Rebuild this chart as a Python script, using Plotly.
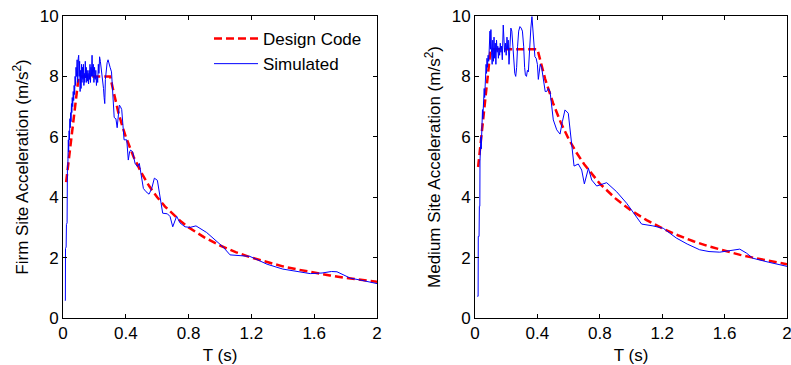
import plotly.graph_objects as go

# ---------------- data ----------------
x_ticks = [0, 0.4, 0.8, 1.2, 1.6, 2]
x_tick_labels = ["0", "0.4", "0.8", "1.2", "1.6", "2"]
y_ticks = [0, 2, 4, 6, 8, 10]
y_tick_labels = ["0", "2", "4", "6", "8", "10"]

# Firm site - design code
firm_code_T = [0.02, 0.1, 0.3, 0.325, 0.35, 0.375, 0.4, 0.45, 0.5, 0.55, 0.6, 0.65, 0.7, 0.75,
               0.8, 0.9, 1.0, 1.1, 1.2, 1.3, 1.4, 1.5, 1.6, 1.7, 1.8, 1.9, 2.0]
firm_code_A = [4.5, 8.0, 8.0, 7.38, 6.86, 6.4, 6.0, 5.33, 4.8, 4.36, 4.0, 3.69, 3.43, 3.2,
               3.0, 2.67, 2.4, 2.18, 2.0, 1.85, 1.71, 1.6, 1.5, 1.41, 1.33, 1.26, 1.2]

# Firm site - simulated
firm_sim_T = [0.012, 0.015, 0.016, 0.020, 0.022, 0.026, 0.028, 0.031, 0.034, 0.036,
              0.039, 0.041, 0.044, 0.046, 0.049, 0.051, 0.054, 0.056, 0.059, 0.062,
              0.065, 0.068, 0.071, 0.074, 0.077, 0.080, 0.083, 0.086, 0.090, 0.094,
              0.097, 0.100, 0.103, 0.106, 0.109, 0.112, 0.115, 0.118, 0.121, 0.124,
              0.127, 0.130, 0.133, 0.136, 0.139, 0.142, 0.145, 0.148, 0.151, 0.154,
              0.157, 0.160, 0.163, 0.166, 0.169, 0.172, 0.175, 0.178, 0.181, 0.185,
              0.189, 0.193, 0.197, 0.201, 0.205, 0.209, 0.213, 0.217, 0.221, 0.225,
              0.229, 0.233, 0.238, 0.243, 0.248, 0.253, 0.258, 0.262, 0.266, 0.270,
              0.275, 0.281, 0.287, 0.294, 0.300, 0.309, 0.315, 0.320, 0.326, 0.331,
              0.337, 0.345, 0.352, 0.359, 0.366, 0.374, 0.389, 0.406, 0.416, 0.424,
              0.431, 0.444, 0.459, 0.474, 0.486, 0.501, 0.512, 0.529, 0.548, 0.565,
              0.582, 0.601, 0.618, 0.635, 0.665, 0.682, 0.699, 0.724, 0.745, 0.777,
              0.809, 0.847, 0.915, 0.968, 1.020, 1.064, 1.120, 1.190, 1.250, 1.300,
              1.400, 1.500, 1.575, 1.650, 1.710, 1.745, 1.790, 1.830, 1.900, 2.000]
firm_sim_A = [0.58, 0.58, 2.3, 2.35, 3.1, 3.15, 4.9, 5.1, 5.9, 5.5,
              6.2, 5.9, 6.6, 6.3, 6.8, 6.5, 7.1, 6.8, 7.3, 7.0,
              7.5, 7.2, 7.7, 7.4, 8.0, 7.7, 8.3, 8.0, 8.55, 7.8,
              8.6, 8.7, 8.0, 8.5, 7.5, 8.2, 7.6, 8.4, 7.8, 8.3,
              7.9, 8.4, 7.7, 8.1, 7.8, 8.5, 7.95, 8.3, 7.8, 8.2,
              7.85, 8.1, 7.75, 8.2, 7.9, 8.4, 7.8, 8.3, 8.0, 8.7,
              8.0, 8.4, 7.8, 8.3, 7.9, 8.2, 7.7, 8.0, 7.8, 8.4,
              8.1, 8.65, 8.5, 8.3, 8.0, 7.9, 7.6, 7.3, 7.1, 7.9,
              8.2, 8.45, 8.55, 8.45, 8.3, 8.15, 7.6, 7.2, 6.65, 6.61,
              6.6, 6.3, 6.6, 7.05, 7.0, 6.9, 5.9, 5.9, 5.23, 5.5,
              5.56, 5.5, 5.12, 5.01, 5.12, 4.68, 4.29, 4.18, 4.1, 4.29,
              4.63, 4.56, 3.96, 3.47, 3.45, 3.36, 3.02, 3.37, 3.15, 3.02,
              3.0, 3.05, 2.83, 2.6, 2.35, 2.09, 2.06, 2.04, 1.9, 1.78,
              1.62, 1.52, 1.47, 1.49, 1.54, 1.53, 1.42, 1.32, 1.25, 1.14]

# Medium site - design code
med_code_T = [0.02, 0.1, 0.4, 0.425, 0.45, 0.5, 0.55, 0.6, 0.65, 0.7, 0.75, 0.8, 0.9, 1.0,
              1.1, 1.2, 1.3, 1.4, 1.5, 1.6, 1.7, 1.8, 1.9, 2.0]
med_code_A = [5.0, 8.9, 8.9, 8.38, 7.91, 7.12, 6.47, 5.93, 5.48, 5.09, 4.75, 4.45, 3.96, 3.56,
              3.24, 2.97, 2.74, 2.54, 2.37, 2.23, 2.09, 1.98, 1.87, 1.78]

# Medium site - simulated
med_sim_T = [0.015, 0.020, 0.021, 0.026, 0.028, 0.031, 0.032, 0.035, 0.038, 0.040,
             0.043, 0.045, 0.048, 0.050, 0.053, 0.056, 0.059, 0.062, 0.065, 0.068,
             0.071, 0.074, 0.077, 0.080, 0.084, 0.088, 0.092, 0.096, 0.099, 0.102,
             0.106, 0.110, 0.114, 0.118, 0.122, 0.126, 0.130, 0.134, 0.138, 0.142,
             0.146, 0.150, 0.154, 0.158, 0.162, 0.166, 0.170, 0.175, 0.181, 0.186,
             0.190, 0.195, 0.200, 0.205, 0.209, 0.213, 0.218, 0.224, 0.230, 0.236,
             0.242, 0.248, 0.255, 0.261, 0.267, 0.273, 0.280, 0.288, 0.296, 0.304,
             0.312, 0.318, 0.323, 0.330, 0.336, 0.342, 0.350, 0.358, 0.365, 0.372,
             0.378, 0.384, 0.392, 0.400, 0.406, 0.412, 0.418, 0.427, 0.438, 0.450,
             0.459, 0.470, 0.481, 0.490, 0.502, 0.524, 0.545, 0.560, 0.577, 0.598,
             0.620, 0.635, 0.662, 0.684, 0.701, 0.727, 0.748, 0.780, 0.844, 0.908,
             0.972, 1.026, 1.068, 1.140, 1.207, 1.290, 1.360, 1.440, 1.500, 1.569,
             1.630, 1.697, 1.740, 1.780, 1.880, 2.000]
med_sim_A = [0.72, 0.72, 2.7, 2.7, 3.7, 3.7, 5.2, 5.6, 6.0, 5.6,
             6.6, 6.3, 6.9, 6.6, 7.2, 6.9, 7.6, 7.3, 7.9, 7.6,
             8.4, 8.1, 8.6, 8.3, 8.7, 8.5, 9.3, 9.5, 8.9, 9.55,
             8.8, 8.4, 9.2, 8.5, 9.3, 8.6, 9.1, 8.4, 9.2, 8.8,
             9.0, 8.6, 8.95, 8.7, 9.1, 8.8, 9.0, 8.55, 9.7, 9.2,
             8.8, 9.1, 8.7, 9.3, 8.9, 9.2, 8.4, 9.0, 9.6, 9.5,
             9.0, 8.5, 8.1, 8.0, 8.3, 9.0, 9.5, 9.65, 9.6, 9.5,
             9.0, 8.3, 8.05, 8.0, 8.2, 8.15, 9.0, 9.6, 9.98, 9.5,
             8.8, 8.65, 8.6, 8.4, 7.9, 8.3, 8.4, 8.3, 7.9, 7.5,
             7.5, 7.6, 7.5, 7.0, 6.56, 6.23, 6.09, 6.5, 6.89, 6.78,
             5.78, 5.03, 5.1, 4.9, 4.44, 4.96, 4.57, 4.37, 4.48, 4.18,
             3.8, 3.41, 3.11, 3.05, 2.97, 2.65, 2.45, 2.26, 2.2, 2.18,
             2.23, 2.28, 2.15, 1.98, 1.85, 1.71]

# ---------------- figure ----------------
W, H = 791, 365
FONT = "Arial, 'Liberation Sans', sans-serif"
RED = "rgb(255,0,0)"
BLUE = "rgb(0,0,255)"
dash = "8px,4px"


def px_x(p):
    return p / W


def px_y(p):
    return 1 - p / H


fig = go.Figure()
fig.add_trace(go.Scatter(x=firm_code_T, y=firm_code_A, mode="lines", name="Design Code",
                         line=dict(color=RED, width=2.5, dash=dash), xaxis="x", yaxis="y"))
fig.add_trace(go.Scatter(x=firm_sim_T, y=firm_sim_A, mode="lines", name="Simulated",
                         line=dict(color=BLUE, width=1), xaxis="x", yaxis="y"))
fig.add_trace(go.Scatter(x=med_code_T, y=med_code_A, mode="lines", name="Design Code",
                         line=dict(color=RED, width=2.5, dash=dash), xaxis="x2", yaxis="y2",
                         showlegend=False))
fig.add_trace(go.Scatter(x=med_sim_T, y=med_sim_A, mode="lines", name="Simulated",
                         line=dict(color=BLUE, width=1), xaxis="x2", yaxis="y2",
                         showlegend=False))

common_x = dict(range=[0, 2], tickvals=x_ticks, ticktext=x_tick_labels, ticks="inside",
                ticklen=4, tickcolor="black", showline=True, linecolor="black", linewidth=1,
                mirror="ticks", showgrid=False, zeroline=False, automargin=False,
                ticklabeloverflow="allow",
                tickfont=dict(family=FONT, size=17, color="black"))
common_y = dict(range=[0, 10], tickvals=y_ticks, ticktext=y_tick_labels, ticks="inside",
                ticklen=4, tickcolor="black", showline=True, linecolor="black", linewidth=1,
                mirror="ticks", showgrid=False, zeroline=False, automargin=False,
                ticklabeloverflow="allow",
                tickfont=dict(family=FONT, size=17, color="black"))

y_dom = [px_y(318), px_y(16)]
fig.update_layout(
    width=W, height=H,
    margin=dict(l=0, r=0, t=0, b=0, autoexpand=False),
    paper_bgcolor="white", plot_bgcolor="white",
    font=dict(family=FONT, size=17, color="black"),
    xaxis=dict(domain=[px_x(63), px_x(377)], anchor="y",
               title=dict(text="T (s)", standoff=7, font=dict(family=FONT, size=17)), **common_x),
    yaxis=dict(domain=y_dom, anchor="x",
               title=dict(text="Firm Site Acceleration (m/s<sup>2</sup>)", standoff=6,
                          font=dict(family=FONT, size=17)), **common_y),
    xaxis2=dict(domain=[px_x(475), px_x(787)], anchor="y2",
                title=dict(text="T (s)", standoff=7, font=dict(family=FONT, size=17)), **common_x),
    yaxis2=dict(domain=y_dom, anchor="x2",
                title=dict(text="Medium Site Acceleration (m/s<sup>2</sup>)", standoff=6,
                           font=dict(family=FONT, size=17)), **common_y),
    legend=dict(x=px_x(209), y=px_y(21), xanchor="left", yanchor="top",
                bgcolor="rgba(0,0,0,0)", borderwidth=0,
                font=dict(family=FONT, size=17, color="black"),
                tracegroupgap=0, itemwidth=44),
    showlegend=True,
)

fig.write_html("out.html", config={"displayModeBar": False},
               post_script="document.body.style.margin='0';document.body.style.overflow='hidden';")
